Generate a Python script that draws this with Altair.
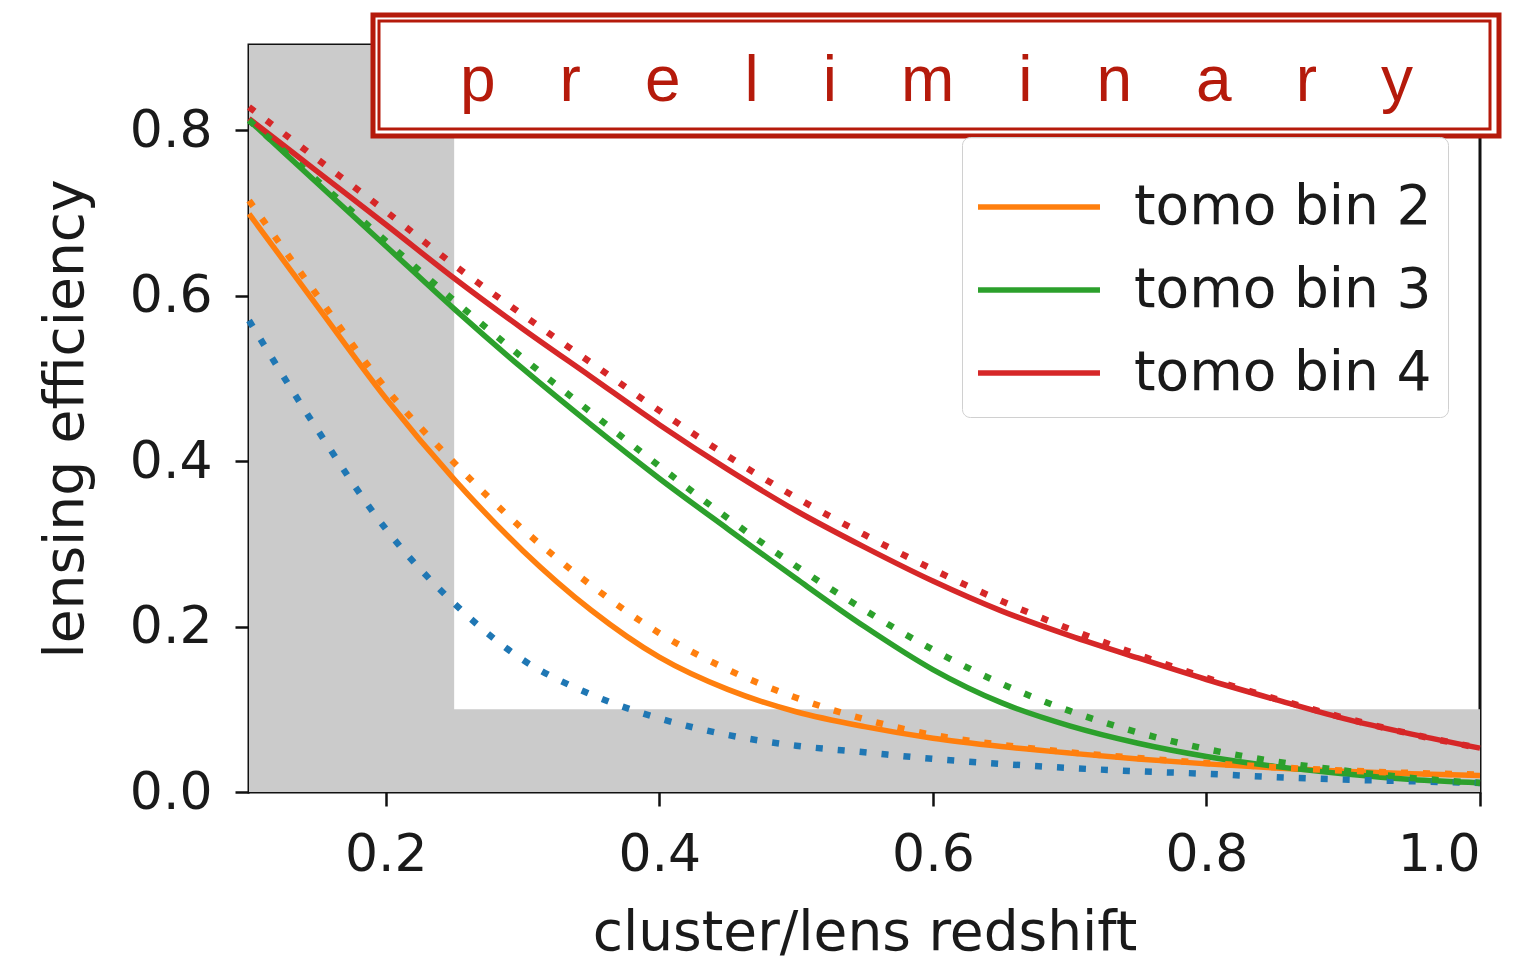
import altair as alt
import pandas as pd

# ---------------- data ----------------
redshift = [0.10, 0.15, 0.20, 0.25, 0.30, 0.35, 0.40, 0.45, 0.50, 0.55,
            0.60, 0.65, 0.70, 0.75, 0.80, 0.85, 0.90, 0.95, 1.00]

bin1_dotted = [0.570, 0.438, 0.318, 0.228, 0.160, 0.118, 0.089, 0.069, 0.056, 0.048,
               0.040, 0.034, 0.029, 0.025, 0.022, 0.018, 0.015, 0.013, 0.011]
bin2_solid = [0.699, 0.587, 0.476, 0.378, 0.292, 0.220, 0.163, 0.124, 0.097, 0.079,
              0.065, 0.055, 0.047, 0.040, 0.034, 0.029, 0.025, 0.022, 0.020]
bin2_dotted = [0.715, 0.600, 0.488, 0.398, 0.318, 0.250, 0.192, 0.148, 0.114, 0.088,
               0.069, 0.057, 0.048, 0.041, 0.035, 0.030, 0.026, 0.023, 0.021]
bin3_solid = [0.812, 0.736, 0.660, 0.584, 0.512, 0.444, 0.379, 0.318, 0.258, 0.200,
              0.148, 0.108, 0.080, 0.059, 0.043, 0.031, 0.022, 0.015, 0.011]
bin3_dotted = [0.812, 0.739, 0.666, 0.594, 0.525, 0.459, 0.394, 0.331, 0.273, 0.220,
               0.172, 0.131, 0.098, 0.072, 0.052, 0.037, 0.026, 0.017, 0.011]
bin4_solid = [0.814, 0.750, 0.686, 0.621, 0.560, 0.502, 0.444, 0.390, 0.340, 0.296,
              0.255, 0.219, 0.189, 0.162, 0.136, 0.112, 0.089, 0.070, 0.053]
bin4_dotted = [0.828, 0.765, 0.702, 0.637, 0.577, 0.519, 0.461, 0.406, 0.356, 0.311,
               0.269, 0.231, 0.197, 0.166, 0.138, 0.113, 0.090, 0.070, 0.053]

bin_labels = ["tomo bin 1", "tomo bin 2", "tomo bin 3", "tomo bin 4"]
bin_colors = ["#1f77b4", "#ff7f0e", "#2ca02c", "#d62728"]

x_ticks = [0.2, 0.4, 0.6, 0.8, 1.0]
y_ticks = [0.0, 0.2, 0.4, 0.6, 0.8]
x_domain = [0.1, 1.0]
y_domain = [0.0, 0.903]

# shaded exclusion regions (low-z strip and low-efficiency band)
shade_x0 = [0.10, 0.10]
shade_x1 = [0.25, 1.00]
shade_y0 = [0.0, 0.0]
shade_y1 = [0.903, 0.10]

banner_text = "\u2003".join("preliminary")

# ---------------- tables ----------------
solid_series = {"tomo bin 2": bin2_solid, "tomo bin 3": bin3_solid, "tomo bin 4": bin4_solid}
dotted_series = {"tomo bin 1": bin1_dotted, "tomo bin 2": bin2_dotted,
                 "tomo bin 3": bin3_dotted, "tomo bin 4": bin4_dotted}

solid_df = pd.DataFrame([
    {"bin": k, "z": z, "eff": v}
    for k, vals in solid_series.items() for z, v in zip(redshift, vals)
])
dotted_df = pd.DataFrame([
    {"bin": k, "z": z, "eff": v}
    for k, vals in dotted_series.items() for z, v in zip(redshift, vals)
])
shade_df = pd.DataFrame({"x0": shade_x0, "x1": shade_x1, "y0": shade_y0, "y1": shade_y1})

FONT = "DejaVu Sans"
RED = "#b51a0b"
W, H = 1231, 747

xscale = alt.Scale(domain=x_domain, nice=False, zero=False)
yscale = alt.Scale(domain=y_domain, nice=False, zero=False)
cscale = alt.Scale(domain=bin_labels, range=bin_colors)

x_axis = alt.Axis(values=x_ticks, format=".1f", title="cluster/lens redshift",
                  titleY=157, titleBaseline="alphabetic")
y_axis = alt.Axis(values=y_ticks, format=".1f", title="lensing efficiency",
                  titleX=-167, titleAngle=270, titleBaseline="alphabetic", titleAlign="center")

shade = alt.Chart(shade_df).mark_rect(color="#cbcbcb").encode(
    x=alt.X("x0:Q", scale=xscale, axis=x_axis),
    x2="x1:Q",
    y=alt.Y("y0:Q", scale=yscale, axis=y_axis),
    y2="y1:Q",
)

solid = alt.Chart(solid_df).mark_line(strokeWidth=5.5, interpolate="monotone").encode(
    x=alt.X("z:Q", scale=xscale),
    y=alt.Y("eff:Q", scale=yscale),
    color=alt.Color("bin:N", scale=cscale, legend=alt.Legend(
        values=bin_labels[1:], title=" ", titleFontSize=2, titlePadding=17,
        orient="none", legendX=713, legendY=92,
        symbolType="M-1.906,0L1.906,0", symbolSize=4096, symbolStrokeWidth=5.5,
        symbolOffset=26, labelOffset=60, rowPadding=20,
        labelFont=FONT, labelFontSize=55, labelColor="#1a1a1a",
        padding=16, fillColor="rgba(255,255,255,0.85)", strokeColor="#d0d0d0",
        cornerRadius=8, labelLimit=600,
    )),
    detail="bin:N",
)

dotted = alt.Chart(dotted_df).mark_line(strokeWidth=6.5, strokeDash=[7, 15], strokeCap="butt",
                                        interpolate="monotone").encode(
    x=alt.X("z:Q", scale=xscale),
    y=alt.Y("eff:Q", scale=yscale),
    color=alt.Color("bin:N", scale=cscale, legend=None),
    detail="bin:N",
)

one = pd.DataFrame({"k": [0]})
banner_outer = alt.Chart(one).mark_rect(fill="white", stroke=RED, strokeWidth=5).encode(
    x=alt.value(124), x2=alt.value(1250), y=alt.value(-30), y2=alt.value(91))
banner_inner = alt.Chart(one).mark_rect(fill="white", fillOpacity=0, stroke=RED, strokeWidth=3).encode(
    x=alt.value(130), x2=alt.value(1241), y=alt.value(-24), y2=alt.value(84))
banner_label = alt.Chart(one).mark_text(
    text=banner_text, font="Liberation Sans", fontSize=64, color=RED,
    align="center", baseline="alphabetic").encode(x=alt.value(687.5), y=alt.value(56))

chart = alt.layer(shade, solid, dotted, banner_outer, banner_inner, banner_label).properties(
    width=W, height=H,
    autosize=alt.AutoSizeParams(type="none"),
    padding={"left": 249, "top": 45, "right": 1527 - 249 - W, "bottom": 963 - 45 - H},
    background="white",
).configure_view(
    stroke="#111111", strokeWidth=3,
).configure_axis(
    domain=False, grid=False,
    tickColor="#111111", tickWidth=2.5, tickSize=14,
    labelFont=FONT, labelFontSize=52, labelColor="#1a1a1a", labelPadding=23,
    titleFont=FONT, titleFontSize=55, titleColor="#1a1a1a", titleFontWeight="normal",
)

chart.save("out.html", embed_options={"renderer": "svg", "actions": False})
